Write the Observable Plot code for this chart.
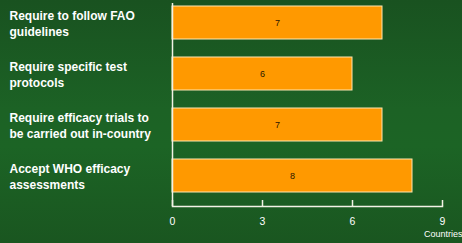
<!DOCTYPE html>
<html>
<head>
<meta charset="utf-8">
<script src="https://cdn.jsdelivr.net/npm/d3@7"></script>
<script src="https://cdn.jsdelivr.net/npm/@observablehq/plot@0.6"></script>
<style>
  html, body { margin: 0; padding: 0; }
  #chart {
    width: 462px; height: 243px; overflow: hidden;
    background: linear-gradient(to bottom, #195220 0%, #1c6225 45%, #1c6425 60%, #1a5620 100%);
  }
  #chart svg { display: block; background: transparent !important; font-family: "Liberation Sans", Arial, sans-serif; }
</style>
</head>
<body>
<div id="chart"></div>
<script>
const categories = [
  "Require to follow FAO\nguidelines",
  "Require specific test\nprotocols",
  "Require efficacy trials to\nbe carried out in-country",
  "Accept WHO efficacy\nassessments"
];
const values = [7, 6, 7, 8];
const xTicks = [0, 3, 6, 9];
const axisLabel = "Countries";

const data = categories.map((c, i) => ({cat: c, value: values[i]}));

const W = 462, H = 243, mT = 3, mB = 37;
const frameH = H - mT - mB;
const axisColor = "#f2f2e6";

const chart = Plot.plot({
  width: W,
  height: H,
  marginLeft: 172,
  marginRight: 20,
  marginTop: mT,
  marginBottom: mB,
  x: {domain: [0, 9], ticks: xTicks, axis: null},
  y: {domain: categories, paddingInner: 0.357, paddingOuter: 0.156, align: 0.19, axis: null},
  marks: [
    Plot.barX(data, {x: "value", y: "cat", fill: "#ff9900", stroke: "#ffe6b0", strokeWidth: 1}),
    Plot.frame({anchor: "bottom", stroke: axisColor, strokeWidth: 1.5}),
    Plot.tickX(xTicks, {x: d => d, insetTop: frameH - 6, stroke: axisColor, strokeWidth: 1.5}),
    Plot.ruleX([0], {stroke: axisColor, strokeWidth: 1.5}),
    Plot.text(data, {x: d => d.value / 2, y: "cat", text: d => String(d.value), fill: "#2a1600", fontSize: 9}),
    Plot.text(categories, {y: d => d, frameAnchor: "left", dx: -163, textAnchor: "start", fill: "#ffffff", fontWeight: "bold", fontSize: 12, lineHeight: 1.28}),
    Plot.text(xTicks, {x: d => d, frameAnchor: "bottom", dy: 18, fill: "#ffffff", fontSize: 10.5}),
    Plot.text([axisLabel], {frameAnchor: "bottom-right", dx: 20, dy: 30, textAnchor: "end", fill: "#ffffff", fontSize: 9})
  ]
});
document.getElementById("chart").appendChild(chart);
</script>
</body>
</html>
